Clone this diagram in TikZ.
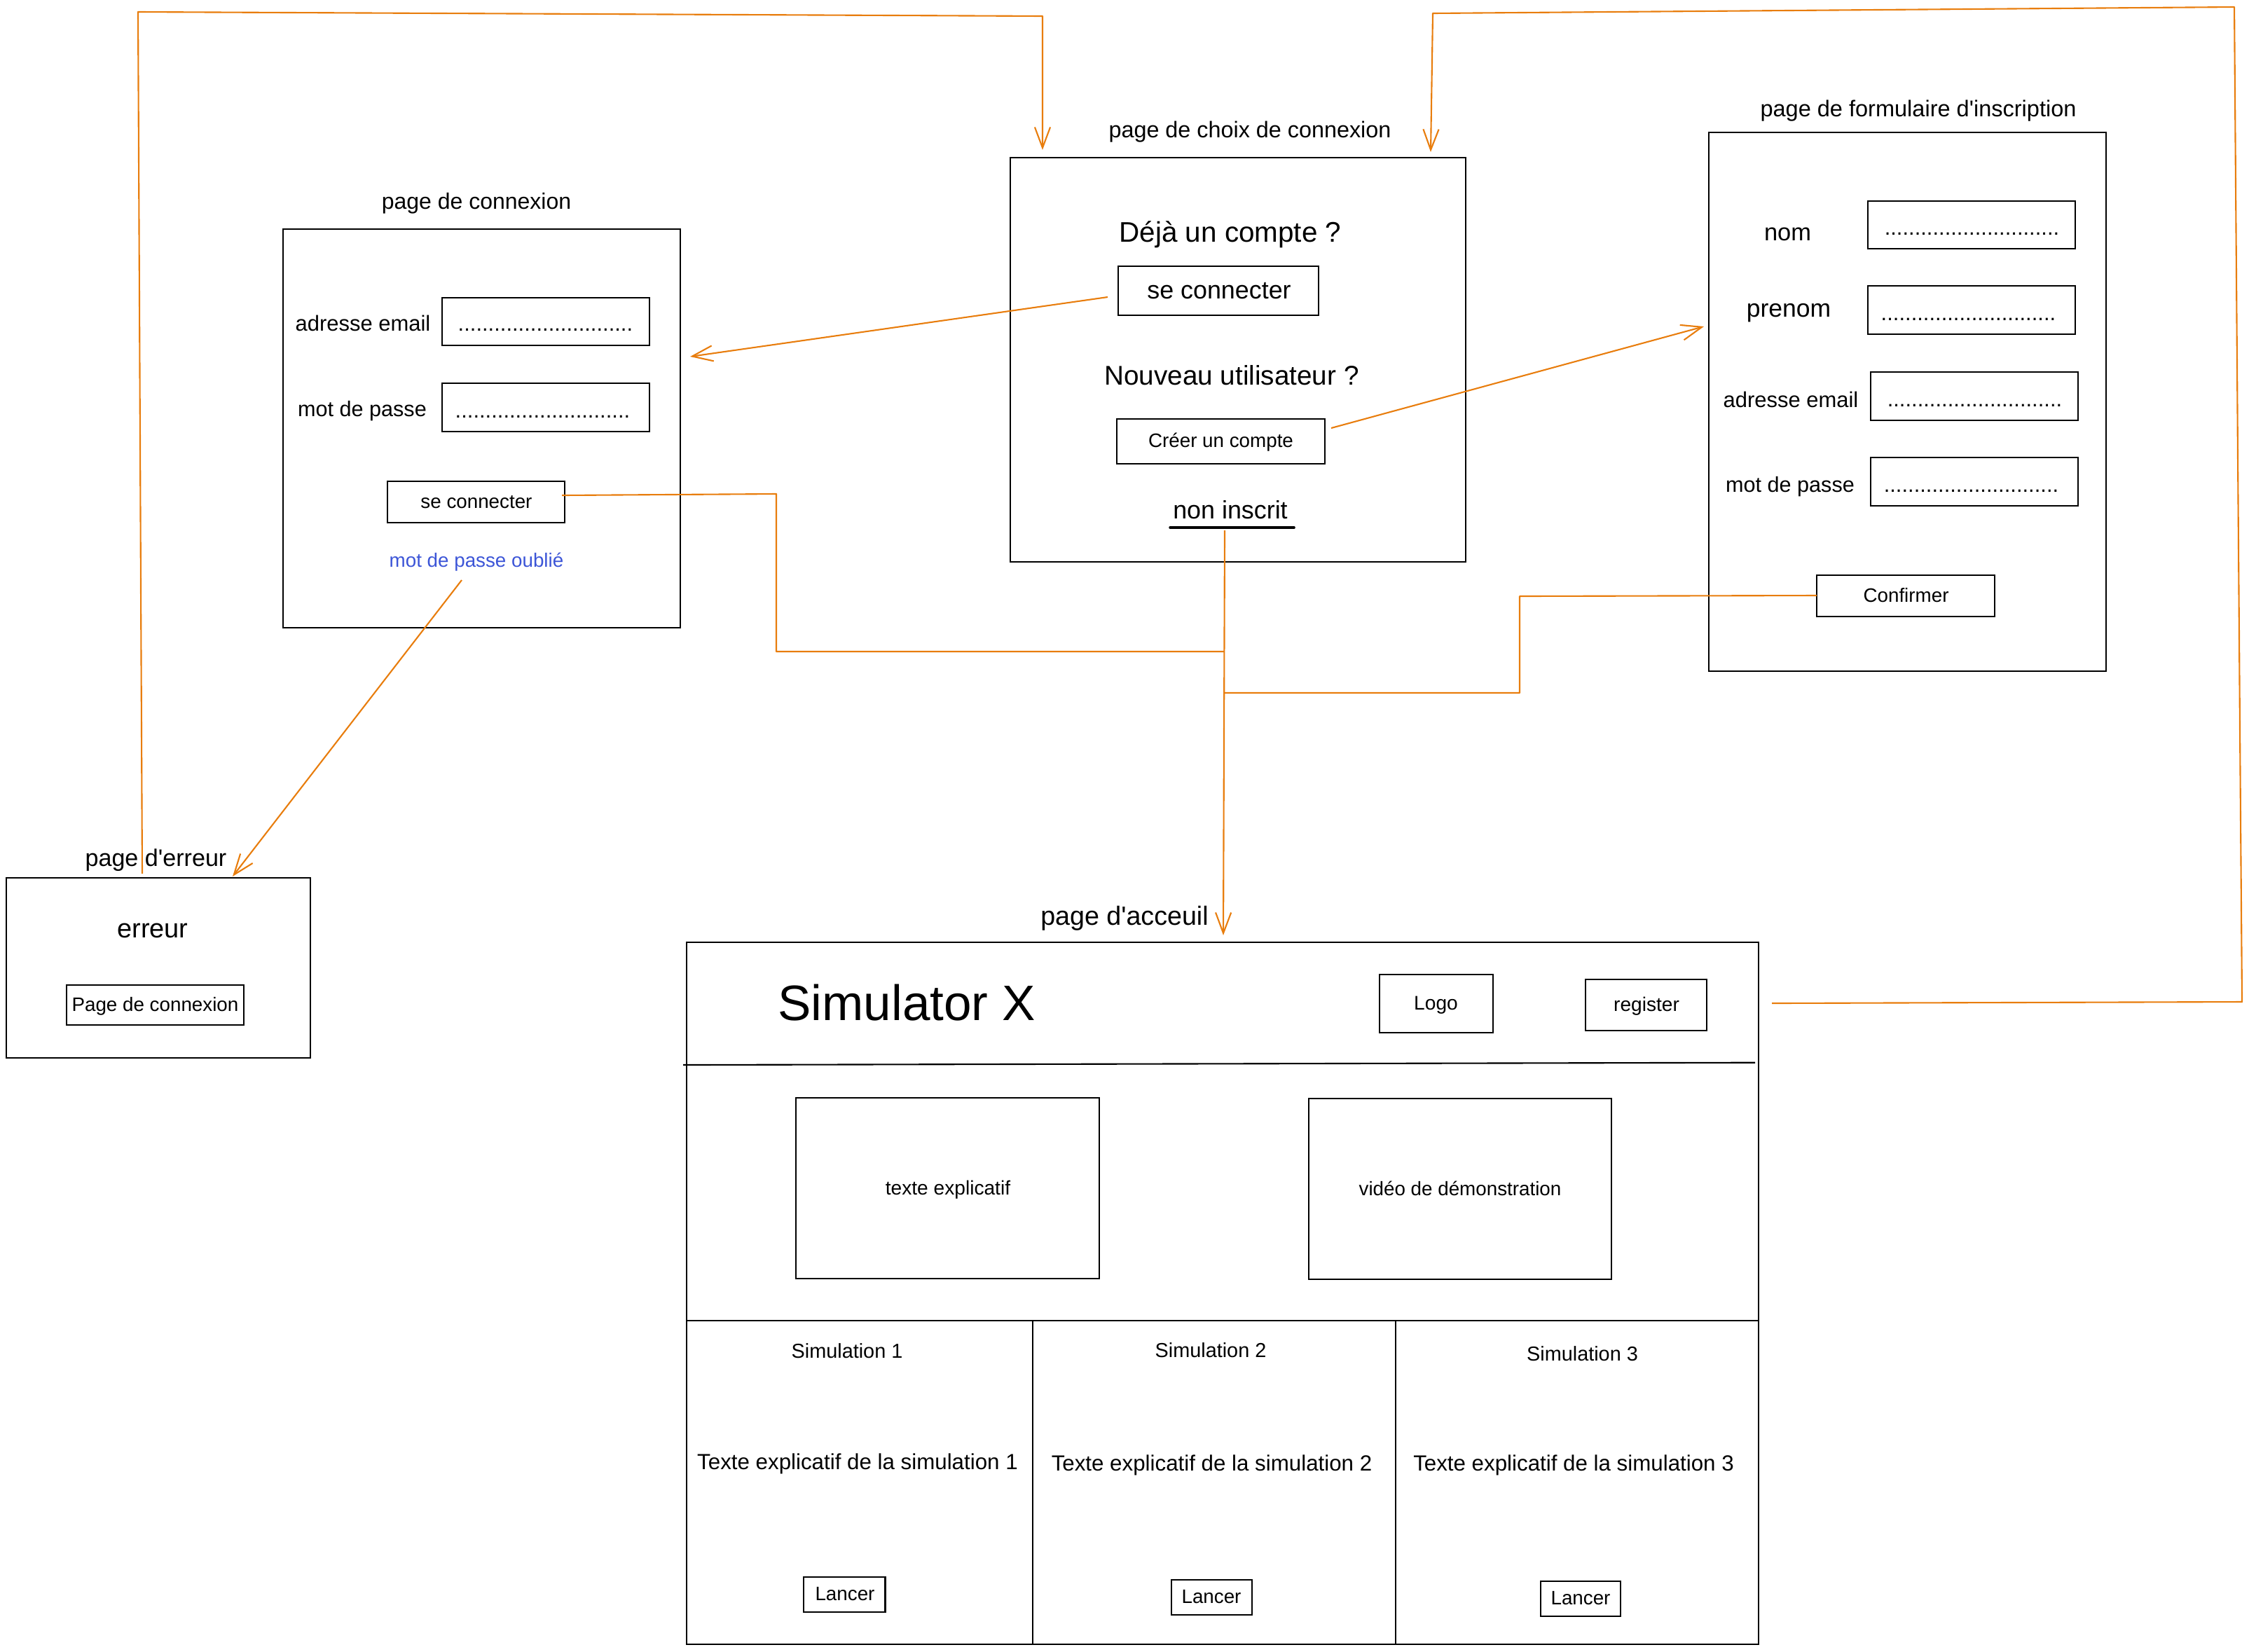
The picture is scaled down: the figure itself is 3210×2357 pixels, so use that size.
\documentclass[tikz,border=0pt]{standalone}
\usepackage{fontspec}
\setmainfont{Liberation Sans}[Ligatures=TeXOff]
\usetikzlibrary{arrows.meta,fit}
\definecolor{orng}{RGB}{232,125,13}
\definecolor{lnkblue}{RGB}{60,85,215}
\newcommand{\fsz}[1]{\fontsize{#1}{#1}\selectfont}
\newcommand{\fielddots}{.............................}
\begin{document}
\begin{tikzpicture}[x=0.01cm,y=-0.01cm,
  pagebox/.style={draw, line width=0.6pt, inner sep=0pt},
  txt/.style={anchor=base, inner sep=0pt},
  dotsnode/.style={anchor=base west, inner sep=0pt, font=\fsz{8.8pt}},
  wire/.style={draw=orng, line width=0.6pt, line join=round},
  arr/.style={wire, -{Straight Barb[length=8.4pt,width=6.3pt]}},
  ]
\useasboundingbox (0,0) rectangle (3210,2357);

% ---------- page de connexion ----------
\node[pagebox, fit={(404,327) (971,896)}] (login) {};
\node[txt, font=\fsz{9.1pt}] (loginT) at (680,298) {page de connexion};
\node[txt, font=\fsz{8.8pt}] (lEmailL) at (518,472) {adresse email};
\node[pagebox, fit={(631,425) (927,493)}] (lEmailF) {};
\node[dotsnode] (lEmailD) at (653,472) {\fielddots};
\node[txt, font=\fsz{8.7pt}] (lPwL) at (517,594) {mot de passe};
\node[pagebox, fit={(631,547) (927,616)}] (lPwF) {};
\node[dotsnode] (lPwD) at (649,596) {\fielddots};
\node[pagebox, fit={(553,687) (806,746)}] (lBtn) {};
\node[txt, font=\fsz{7.9pt}] (lBtnT) at (680,725.6) {se connecter};
\node[txt, font=\fsz{7.9pt}, text=lnkblue] (lForgot) at (680,809) {mot de passe oublié};

% ---------- page de choix de connexion ----------
\node[pagebox, fit={(1442,225) (2092,802)}] (choix) {};
\node[txt, font=\fsz{9.2pt}] (choixT) at (1784,196) {page de choix de connexion};
\node[txt, font=\fsz{11.5pt}] (deja) at (1756,345) {Déjà un compte ?};
\node[pagebox, fit={(1596,380) (1882,450)}] (cBtn) {};
\node[txt, font=\fsz{10.2pt}] (cBtnT) at (1740,426) {se connecter};
\node[txt, font=\fsz{11pt}] (nouveau) at (1758,549) {Nouveau utilisateur ?};
\node[pagebox, fit={(1594,598) (1891,662)}] (creer) {};
\node[txt, font=\fsz{7.9pt}] (creerT) at (1742.5,638.6) {Créer un compte};
\node[txt, font=\fsz{10.2pt}] (nonins) at (1756,740) {non inscrit};
\coordinate (ulA) at (1670,753);
\coordinate (ulB) at (1847,753);
\draw[line width=1pt, line cap=round] (ulA) -- (ulB);

% ---------- page de formulaire d'inscription ----------
\node[pagebox, fit={(2439,189) (3006,958)}] (form) {};
\node[txt, font=\fsz{9.25pt}] (formT) at (2738,166.7) {page de formulaire d'inscription};
\node[txt, font=\fsz{9.8pt}] (fNomL) at (2551.5,343) {nom};
\node[pagebox, fit={(2666,287) (2962,355)}] (fNomF) {};
\node[dotsnode] (fNomD) at (2689,335.5) {\fielddots};
\node[txt, font=\fsz{10.1pt}] (fPreL) at (2553,452) {prenom};
\node[pagebox, fit={(2666,408) (2962,477)}] (fPreF) {};
\node[dotsnode] (fPreD) at (2684,457.5) {\fielddots};
\node[txt, font=\fsz{8.8pt}] (fEmailL) at (2556,581) {adresse email};
\node[pagebox, fit={(2670,531) (2966,600)}] (fEmailF) {};
\node[dotsnode] (fEmailD) at (2693,580) {\fielddots};
\node[txt, font=\fsz{8.7pt}] (fPwL) at (2555,702) {mot de passe};
\node[pagebox, fit={(2670,653) (2966,722)}] (fPwF) {};
\node[dotsnode] (fPwD) at (2688,702) {\fielddots};
\node[pagebox, fit={(2593,821) (2847,880)}] (conf) {};
\node[txt, font=\fsz{7.9pt}] (confT) at (2720.5,859) {Confirmer};

% ---------- page d'erreur ----------
\node[pagebox, fit={(9,1253) (443,1510)}] (err) {};
\node[txt, font=\fsz{9.7pt}] (errT) at (222.5,1236.7) {page d'erreur};
\node[txt, font=\fsz{10.8pt}] (errW) at (218,1338.3) {erreur};
\node[pagebox, fit={(95,1406) (348,1463)}] (errBtn) {};
\node[txt, font=\fsz{7.9pt}] (errBtnT) at (221.5,1443.3) {Page de connexion};

% ---------- page d'acceuil ----------
\node[pagebox, fit={(980,1345) (2510,2347)}] (home) {};
\node[txt, font=\fsz{10.7pt}] (homeT) at (1605,1320) {page d'acceuil};
\coordinate (hdA) at (975,1520);
\coordinate (hdB) at (2505,1516.7);
\draw[line width=0.6pt] (hdA) -- (hdB);
\node[txt, font=\fsz{20.2pt}] (simx) at (1294,1456.7) {Simulator X};
\node[pagebox, fit={(1969,1391) (2131,1474)}] (logo) {};
\node[txt, font=\fsz{8pt}] (logoT) at (2049.5,1441.7) {Logo};
\node[pagebox, fit={(2263,1398) (2436,1471)}] (reg) {};
\node[txt, font=\fsz{8pt}] (regT) at (2350,1443.5) {register};
\node[pagebox, fit={(1136,1567) (1569,1825)}] (texp) {};
\node[txt, font=\fsz{8pt}] (texpT) at (1353,1705) {texte explicatif};
\node[pagebox, fit={(1868,1568) (2300,1826)}] (video) {};
\node[txt, font=\fsz{7.9pt}] (videoT) at (2084,1706) {vidéo de démonstration};
\coordinate (sepL) at (980,1885);
\coordinate (sepR) at (2510,1885);
\draw[line width=0.6pt] (sepL) -- (sepR);
\coordinate (v1a) at (1474,1885);
\coordinate (v1b) at (1474,2347);
\coordinate (v2a) at (1992,1885);
\coordinate (v2b) at (1992,2347);
\draw[line width=0.6pt] (v1a) -- (v1b);
\draw[line width=0.6pt] (v2a) -- (v2b);
\node[txt, font=\fsz{8.2pt}] (sim1) at (1209,1938) {Simulation 1};
\node[txt, font=\fsz{8.2pt}] (sim2) at (1728,1937) {Simulation 2};
\node[txt, font=\fsz{8.2pt}] (sim3) at (2258.5,1942) {Simulation 3};
\node[txt, font=\fsz{8.9pt}] (txt1) at (1224,2097) {Texte explicatif de la simulation 1};
\node[txt, font=\fsz{8.9pt}] (txt2) at (1729.5,2099) {Texte explicatif de la simulation 2};
\node[txt, font=\fsz{8.9pt}] (txt3) at (2246,2099) {Texte explicatif de la simulation 3};
\node[pagebox, fit={(1147,2251) (1263.5,2301)}] (lan1) {};
\node[txt, font=\fsz{7.9pt}] (lan1T) at (1206,2284) {Lancer};
\node[pagebox, fit={(1672,2255) (1787,2305)}] (lan2) {};
\node[txt, font=\fsz{7.9pt}] (lan2T) at (1729,2288) {Lancer};
\node[pagebox, fit={(2199,2257) (2313,2307)}] (lan3) {};
\node[txt, font=\fsz{7.9pt}] (lan3T) at (2256,2290) {Lancer};

% ---------- connectors ----------
% error page -> choix (top-left loop)
\coordinate (e0) at (203,1247);
\coordinate (e1) at (197,17);
\coordinate (e2) at (1488,23);
\coordinate (e3) at (1488,214);
\draw[arr] (e0) -- (e1) -- (e2) -- (e3);
% register -> choix (top-right loop)
\coordinate (r0) at (2529,1432);
\coordinate (r1) at (3200,1430);
\coordinate (r2) at (3189,10);
\coordinate (r3) at (2045,19);
\coordinate (r4) at (2042,217);
\draw[arr] (r0) -- (r1) -- (r2) -- (r3) -- (r4);
% choix se connecter -> login
\coordinate (c0) at (1581,424);
\coordinate (c1) at (985,509);
\draw[arr] (c0) -- (c1);
% creer un compte -> form
\coordinate (k0) at (1900,611);
\coordinate (k1) at (2432,466);
\draw[arr] (k0) -- (k1);
% mot de passe oublie -> erreur
\coordinate (m0) at (659,828);
\coordinate (m1) at (332,1251);
\draw[arr] (m0) -- (m1);
% login button -> main trunk
\coordinate (b0) at (802,707);
\coordinate (b1) at (1108,705);
\coordinate (b2) at (1108,930);
\coordinate (j1) at (1747,930);
\draw[wire] (b0) -- (b1) -- (b2) -- (j1);
% non inscrit -> accueil
\coordinate (n0) at (1748,757);
\coordinate (n1) at (1746,1335);
\draw[arr] (n0) -- (n1);
% confirmer -> main trunk
\coordinate (f0) at (2593,850);
\coordinate (f1) at (2169,851);
\coordinate (f2) at (2169,989);
\coordinate (j2) at (1747,989);
\draw[wire] (f0) -- (f1) -- (f2) -- (j2);
\end{tikzpicture}
\end{document}
